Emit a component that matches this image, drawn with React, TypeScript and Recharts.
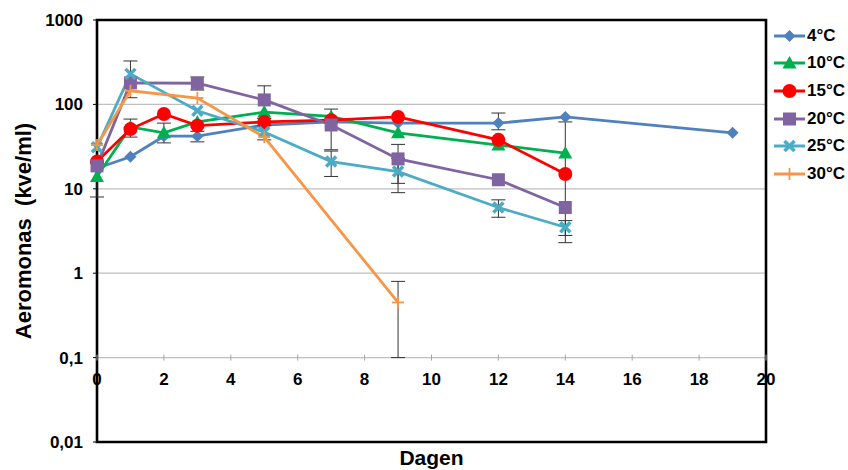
import React from 'react';
import {
  LineChart,
  Line,
  XAxis,
  YAxis,
  CartesianGrid,
  ErrorBar,
  ReferenceArea,
  Legend
} from 'recharts';

const days = [0, 1, 2, 3, 5, 7, 9, 12, 14, 19];
const t4 = [17.5, 24, 42, 42, 57, 62, 60, 60, 71, 46];
const t10 = [14, 54, 46, 62, 81, 72, 46, 33, 26.5, null];
const t15 = [21, 51, 77, 56, 62, 65, 71, 38, 15, null];
const t20 = [18.7, 180, null, 178, 113, 57, 22.6, 12.8, 6, null];
const t25 = [31, 230, null, 84, 47, 21, 16, 6, 3.5, null];
const t30 = [33, 145, null, 119, 41, null, 0.45, null, null, null];

// error bars as [minus, plus]
const e4 = [null, null, null, [6, 6], null, null, null, [10, 19], null, null];
const e10 = [[6, 6], null, [11, 14], null, null, null, null, null, null, null];
const e15 = [null, [10, 16], null, null, null, null, null, null, [12.7, 47], null];
const e20 = [null, null, null, [30, 33], [45, 53], [28, 31], [11, 11], null, null, null];
const e25 = [null, [110, 97], null, null, [9, 9], [7, 7], [7, 7], [1.4, 1.4], [0.7, 0.7], null];
const e30 = [null, null, null, null, null, null, [0.35, 0.35], null, null, null];

const xTicks = [0, 2, 4, 6, 8, 10, 12, 14, 16, 18, 20];
const yTicks = [0.01, 0.1, 1, 10, 100, 1000];

const series = [
  { key: 't4', err: 'e4', name: '4°C', color: '#4F81BD', shape: 'diamond' },
  { key: 't10', err: 'e10', name: '10°C', color: '#00B050', shape: 'triangle' },
  { key: 't15', err: 'e15', name: '15°C', color: '#FF0000', shape: 'circle' },
  { key: 't20', err: 'e20', name: '20°C', color: '#8064A2', shape: 'square' },
  { key: 't25', err: 'e25', name: '25°C', color: '#4BACC6', shape: 'x' },
  { key: 't30', err: 'e30', name: '30°C', color: '#F79646', shape: 'plus' }
];

const data = days.map((day, i) => ({
  day,
  t4: t4[i], t10: t10[i], t15: t15[i], t20: t20[i], t25: t25[i], t30: t30[i],
  e4: e4[i] ?? undefined, e10: e10[i] ?? undefined, e15: e15[i] ?? undefined,
  e20: e20[i] ?? undefined, e25: e25[i] ?? undefined, e30: e30[i] ?? undefined
}));

const W = 848;
const H = 470;
const TOP = 20;
const BOTTOM = 442;
const DECADE = (BOTTOM - TOP) / 5;
const FONT = '"Liberation Sans", Arial, sans-serif';

const marker = (shape: string, cx: number, cy: number, color: string, key?: string) => {
  switch (shape) {
    case 'diamond':
      return <path key={key} d={`M${cx},${cy - 6} L${cx + 6},${cy} L${cx},${cy + 6} L${cx - 6},${cy} Z`} fill={color} />;
    case 'triangle':
      return <path key={key} d={`M${cx},${cy - 7} L${cx + 7},${cy + 5.5} L${cx - 7},${cy + 5.5} Z`} fill={color} />;
    case 'circle':
      return <circle key={key} cx={cx} cy={cy} r={7} fill={color} />;
    case 'square':
      return <rect key={key} x={cx - 6.5} y={cy - 6.5} width={13} height={13} fill={color} />;
    case 'x':
      return (
        <g key={key} stroke={color} strokeWidth={3.5}>
          <line x1={cx - 5} y1={cy - 5} x2={cx + 5} y2={cy + 5} />
          <line x1={cx - 5} y1={cy + 5} x2={cx + 5} y2={cy - 5} />
        </g>
      );
    default:
      return (
        <g key={key} stroke={color} strokeWidth={1.8}>
          <line x1={cx - 6} y1={cy} x2={cx + 6} y2={cy} />
          <line x1={cx} y1={cy - 6} x2={cx} y2={cy + 6} />
        </g>
      );
  }
};

const XTick = ({ x, y, payload }: any) => {
  const gy = y - DECADE;
  return (
    <g>
      <line x1={x} x2={x} y1={gy - 3} y2={gy + 3} stroke="#a6a6a6" />
      <text x={x} y={gy + 27} textAnchor="middle" fontSize={17} fontWeight="bold" fill="#000" fontFamily={FONT}>
        {payload.value}
      </text>
    </g>
  );
};

const XLabel = ({ viewBox }: any) => (
  <text x={viewBox.x + viewBox.width / 2} y={H - 5} textAnchor="middle"
    fontSize={21} fontWeight="bold" fill="#000" fontFamily={FONT}>
    Dagen
  </text>
);

const YLabel = ({ viewBox }: any) => {
  const cx = 23;
  const cy = viewBox.y + viewBox.height / 2;
  return (
    <text x={cx} y={cy} transform={`rotate(-90, ${cx}, ${cy})`} textAnchor="middle" dominantBaseline="central"
      fontSize={22} fontWeight="bold" fill="#000" fontFamily={FONT} style={{ whiteSpace: 'pre' }}>
      {'Aeromonas  (kve/ml)'}
    </text>
  );
};

const LegendBox = () => (
  <div style={{ fontFamily: FONT }}>
    {series.map(s => (
      <div key={s.key} style={{ display: 'flex', alignItems: 'center', height: 27.6 }}>
        <svg width={33} height={20}>
          <line x1={1} x2={32} y1={10} y2={10} stroke={s.color} strokeWidth={3} />
          {marker(s.shape, 16.5, 10, s.color)}
        </svg>
        <span style={{ fontSize: 17, fontWeight: 'bold', color: '#000', marginLeft: 1 }}>{s.name}</span>
      </div>
    ))}
  </div>
);

export default function App() {
  return (
    <div style={{ position: 'absolute', left: 0, top: 0, width: W, height: H, background: '#fff' }}>
      <LineChart width={W} height={H} data={data} margin={{ top: TOP, right: 82, bottom: 0, left: 0 }}>
        <CartesianGrid vertical={false} stroke="#bfbfbf" strokeWidth={1.2} />
        <XAxis
          dataKey="day"
          type="number"
          domain={[0, 20]}
          ticks={xTicks}
          height={28}
          axisLine={false}
          tickLine={false}
          tickSize={0}
          tickMargin={0}
          tick={<XTick />}
          label={<XLabel />}
        />
        <YAxis
          scale="log"
          domain={[0.01, 1000]}
          ticks={yTicks}
          allowDataOverflow
          width={97}
          axisLine={false}
          tickLine={{ stroke: '#000' }}
          tickSize={4}
          tickMargin={10}
          tickFormatter={(v: number) => String(v).replace('.', ',')}
          tick={{ fontSize: 17, fontWeight: 'bold', fill: '#000', fontFamily: FONT }}
          label={<YLabel />}
        />
        <ReferenceArea x1={0} x2={20} y1={0.01} y2={1000} fill="none" stroke="#000" strokeWidth={2.6} />
        {series.map(s => (
          <Line
            key={s.key}
            dataKey={s.key}
            name={s.name}
            type="linear"
            stroke={s.color}
            strokeWidth={2.8}
            connectNulls
            isAnimationActive={false}
            dot={(p: any) => (p.cy == null || p.value == null
              ? <g key={`${s.key}-${p.index}`} />
              : marker(s.shape, p.cx, p.cy, s.color, `${s.key}-${p.index}`))}
            activeDot={false}
          >
            <ErrorBar dataKey={s.err} direction="y" width={7} stroke="#333" strokeWidth={1} />
          </Line>
        ))}
        <Legend
          layout="vertical"
          align="center"
          verticalAlign="middle"
          wrapperStyle={{ left: 773, top: 22, width: 75, right: 'auto', bottom: 'auto' }}
          content={<LegendBox />}
        />
      </LineChart>
    </div>
  );
}
